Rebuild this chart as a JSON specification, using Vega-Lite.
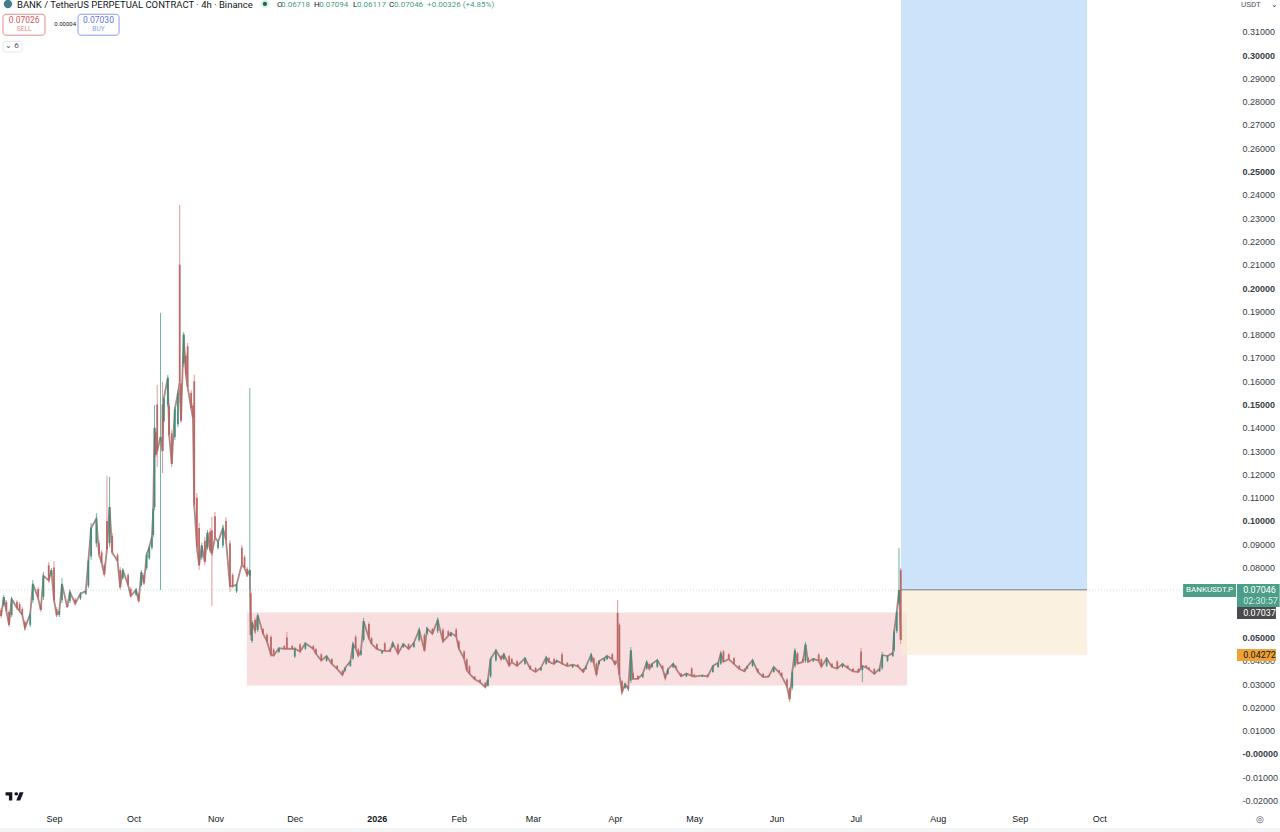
{"$schema":"https://vega.github.io/schema/vega-lite/v6.json","width":1280,"height":832,"padding":0,"autosize":{"type":"none"},"background":"#ffffff","view":{"stroke":null},"config":{"font":"Liberation Sans"},
"datasets":{
"zones":[{"k":"red","t":"2025-11-12T22:00Z","t2":"2026-07-20T10:00Z","p":0.0607,"p2":0.0294},{"k":"blue","t":"2026-07-18T02:00Z","t2":"2026-09-26T10:00Z","p":0.0704,"p2":0.3236},{"k":"cream","t":"2026-07-18T02:00Z","t2":"2026-09-26T10:00Z","p":0.0704,"p2":0.0425},{"k":"strip","t":"2025-08-11T14:00Z","t2":"2026-12-08T08:00Z","p":-0.0318,"p2":-0.0335}],
"last":[{"t":"2025-08-11T14:00Z","t2":"2026-11-01T17:00Z","p":0.07046}],
"entry":[{"t":"2026-07-18T02:00Z","t2":"2026-09-26T10:00Z","p":0.07046}],
"candles":[
{"t":"2025-08-12","o":0.0618,"h":0.0627,"l":0.0584,"c":0.0592},{"t":"2025-08-13","o":0.0639,"h":0.0682,"l":0.0631,"c":0.0673},{"t":"2025-08-14","o":0.0652,"h":0.0661,"l":0.0605,"c":0.0614},{"t":"2025-08-15","o":0.0609,"h":0.0618,"l":0.0545,"c":0.0554},{"t":"2025-08-16","o":0.0597,"h":0.0674,"l":0.0588,"c":0.0665},{"t":"2025-08-18","o":0.0652,"h":0.0661,"l":0.0618,"c":0.0627},{"t":"2025-08-19","o":0.0643,"h":0.0652,"l":0.0605,"c":0.0614},{"t":"2025-08-20","o":0.0622,"h":0.0631,"l":0.0588,"c":0.0597},{"t":"2025-08-21","o":0.0566,"h":0.0575,"l":0.0532,"c":0.0541},{"t":"2025-08-23","o":0.0554,"h":0.0609,"l":0.0545,"c":0.06},{"t":"2025-08-24","o":0.066,"h":0.0747,"l":0.0648,"c":0.073},{"t":"2025-08-26","o":0.0708,"h":0.0717,"l":0.0661,"c":0.067},{"t":"2025-08-27","o":0.0639,"h":0.0648,"l":0.0609,"c":0.0618},{"t":"2025-08-28","o":0.0675,"h":0.0781,"l":0.0661,"c":0.0765},{"t":"2025-08-30","o":0.081,"h":0.0824,"l":0.0734,"c":0.0745},{"t":"2025-08-31","o":0.0769,"h":0.0798,"l":0.076,"c":0.0789},
{"t":"2025-09-01","o":0.08,"h":0.0828,"l":0.0652,"c":0.066},{"t":"2025-09-02","o":0.0622,"h":0.0631,"l":0.0588,"c":0.0597},{"t":"2025-09-03","o":0.0597,"h":0.0622,"l":0.0588,"c":0.0613},{"t":"2025-09-04","o":0.066,"h":0.0755,"l":0.0648,"c":0.073},{"t":"2025-09-06","o":0.0643,"h":0.0648,"l":0.0627,"c":0.0631},{"t":"2025-09-07","o":0.0657,"h":0.0704,"l":0.0648,"c":0.0695},{"t":"2025-09-09","o":0.0663,"h":0.067,"l":0.0639,"c":0.0645},{"t":"2025-09-11","o":0.0668,"h":0.0695,"l":0.0661,"c":0.0688},{"t":"2025-09-13","o":0.0687,"h":0.0704,"l":0.0682,"c":0.0699},{"t":"2025-09-14","o":0.0722,"h":0.0845,"l":0.0712,"c":0.083},{"t":"2025-09-15","o":0.0848,"h":0.0991,"l":0.0833,"c":0.097},{"t":"2025-09-17","o":0.0905,"h":0.1034,"l":0.0888,"c":0.101},{"t":"2025-09-18","o":0.0905,"h":0.0918,"l":0.0845,"c":0.0858},{"t":"2025-09-19","o":0.0865,"h":0.0876,"l":0.0811,"c":0.082},{"t":"2025-09-20","o":0.081,"h":0.082,"l":0.076,"c":0.077},{"t":"2025-09-21","o":0.1,"h":0.1193,"l":0.0863,"c":0.088},{"t":"2025-09-22","o":0.0905,"h":0.1189,"l":0.0888,"c":0.106},{"t":"2025-09-23","o":0.0935,"h":0.0948,"l":0.0854,"c":0.0865},{"t":"2025-09-25","o":0.0855,"h":0.0863,"l":0.082,"c":0.0828},{"t":"2025-09-26","o":0.079,"h":0.0803,"l":0.0704,"c":0.0715},{"t":"2025-09-27","o":0.0755,"h":0.0798,"l":0.0747,"c":0.079},{"t":"2025-09-29","o":0.0768,"h":0.0777,"l":0.0717,"c":0.0725},{"t":"2025-09-30","o":0.0708,"h":0.0717,"l":0.067,"c":0.0678},
{"t":"2025-10-02","o":0.0685,"h":0.0712,"l":0.0678,"c":0.0705},{"t":"2025-10-03","o":0.0687,"h":0.0695,"l":0.0648,"c":0.0656},{"t":"2025-10-04","o":0.0725,"h":0.079,"l":0.0717,"c":0.078},{"t":"2025-10-05","o":0.0768,"h":0.0777,"l":0.0725,"c":0.0733},{"t":"2025-10-06","o":0.0798,"h":0.0863,"l":0.079,"c":0.0855},{"t":"2025-10-07","o":0.084,"h":0.0897,"l":0.0833,"c":0.0888},{"t":"2025-10-08","o":0.0885,"h":0.094,"l":0.0876,"c":0.093},{"t":"2025-10-08T12:00Z","o":0.094,"h":0.106,"l":0.0931,"c":0.105},{"t":"2025-10-09","o":0.106,"h":0.1498,"l":0.1047,"c":0.14},{"t":"2025-10-09T12:00Z","o":0.138,"h":0.1391,"l":0.1275,"c":0.1285},{"t":"2025-10-10","o":0.15,"h":0.1584,"l":0.1232,"c":0.13},{"t":"2025-10-11T06:00Z","o":0.1345,"h":0.1893,"l":0.0704,"c":0.136},{"t":"2025-10-12","o":0.15,"h":0.1597,"l":0.1206,"c":0.13},{"t":"2025-10-12T12:00Z","o":0.143,"h":0.1533,"l":0.1421,"c":0.1525},{"t":"2025-10-14","o":0.15,"h":0.1627,"l":0.1489,"c":0.1615},{"t":"2025-10-14T12:00Z","o":0.1495,"h":0.1506,"l":0.1361,"c":0.137},{"t":"2025-10-15T12:00Z","o":0.1375,"h":0.1391,"l":0.1232,"c":0.1245},{"t":"2025-10-16T16:00Z","o":0.136,"h":0.1489,"l":0.1348,"c":0.148},{"t":"2025-10-17T20:00Z","o":0.1415,"h":0.1562,"l":0.1403,"c":0.155},{"t":"2025-10-18T12:00Z","o":0.21,"h":0.2356,"l":0.1506,"c":0.16},{"t":"2025-10-19","o":0.159,"h":0.1605,"l":0.1421,"c":0.143},{"t":"2025-10-20","o":0.1675,"h":0.1811,"l":0.1661,"c":0.18},{"t":"2025-10-20T20:00Z","o":0.171,"h":0.1721,"l":0.1618,"c":0.1628},{"t":"2025-10-21T12:00Z","o":0.175,"h":0.1764,"l":0.1562,"c":0.1575},{"t":"2025-10-22T20:00Z","o":0.155,"h":0.1562,"l":0.1476,"c":0.1485},{"t":"2025-10-23T12:00Z","o":0.1495,"h":0.1506,"l":0.1433,"c":0.1442},{"t":"2025-10-24","o":0.16,"h":0.1627,"l":0.1047,"c":0.107},{"t":"2025-10-25","o":0.11,"h":0.112,"l":0.0863,"c":0.089},{"t":"2025-10-25T20:00Z","o":0.097,"h":0.0991,"l":0.079,"c":0.081},{"t":"2025-10-26T20:00Z","o":0.0843,"h":0.0906,"l":0.0833,"c":0.0895},{"t":"2025-10-28","o":0.0915,"h":0.0931,"l":0.0811,"c":0.0825},{"t":"2025-10-29","o":0.0885,"h":0.0961,"l":0.0876,"c":0.095},{"t":"2025-10-30","o":0.0955,"h":0.097,"l":0.0863,"c":0.0875},{"t":"2025-10-30T16:00Z","o":0.096,"h":0.1017,"l":0.0635,"c":0.086},{"t":"2025-10-31T20:00Z","o":0.102,"h":0.1039,"l":0.0918,"c":0.093},
{"t":"2025-11-02","o":0.0885,"h":0.0918,"l":0.0876,"c":0.091},{"t":"2025-11-03T20:00Z","o":0.0895,"h":0.0983,"l":0.0884,"c":0.097},{"t":"2025-11-05","o":0.1,"h":0.1017,"l":0.0906,"c":0.0918},{"t":"2025-11-06T12:00Z","o":0.0905,"h":0.0918,"l":0.0695,"c":0.072},{"t":"2025-11-07T12:00Z","o":0.0768,"h":0.0777,"l":0.0712,"c":0.072},{"t":"2025-11-09","o":0.0698,"h":0.0734,"l":0.0691,"c":0.0727},{"t":"2025-11-11","o":0.0885,"h":0.0897,"l":0.0803,"c":0.0815},{"t":"2025-11-12","o":0.0845,"h":0.0854,"l":0.079,"c":0.0798},{"t":"2025-11-13","o":0.0795,"h":0.0803,"l":0.076,"c":0.0768},{"t":"2025-11-14","o":0.0765,"h":0.1571,"l":0.0704,"c":0.079},{"t":"2025-11-14T08:00Z","o":0.069,"h":0.0704,"l":0.0489,"c":0.051},{"t":"2025-11-14T20:00Z","o":0.0485,"h":0.0575,"l":0.0476,"c":0.0565},{"t":"2025-11-16","o":0.0575,"h":0.0584,"l":0.0519,"c":0.0528},{"t":"2025-11-17","o":0.0532,"h":0.0605,"l":0.0524,"c":0.0595},{"t":"2025-11-19","o":0.0535,"h":0.0541,"l":0.0511,"c":0.0516},{"t":"2025-11-20T12:00Z","o":0.0512,"h":0.0519,"l":0.0476,"c":0.0483},{"t":"2025-11-22","o":0.0502,"h":0.0511,"l":0.0416,"c":0.0425},{"t":"2025-11-23","o":0.0448,"h":0.0455,"l":0.0416,"c":0.0423},{"t":"2025-11-25","o":0.0438,"h":0.0459,"l":0.0433,"c":0.0454},{"t":"2025-11-27","o":0.0463,"h":0.0468,"l":0.0446,"c":0.0451},{"t":"2025-11-28","o":0.05,"h":0.0524,"l":0.0446,"c":0.0452},{"t":"2025-11-30","o":0.0463,"h":0.0468,"l":0.0446,"c":0.0451},
{"t":"2025-12-01","o":0.0418,"h":0.0459,"l":0.0412,"c":0.0452},{"t":"2025-12-03","o":0.047,"h":0.0476,"l":0.0433,"c":0.044},{"t":"2025-12-05","o":0.0452,"h":0.0481,"l":0.0446,"c":0.0475},{"t":"2025-12-08","o":0.0463,"h":0.0468,"l":0.0446,"c":0.0451},{"t":"2025-12-09","o":0.045,"h":0.0455,"l":0.0425,"c":0.043},{"t":"2025-12-11","o":0.0427,"h":0.0433,"l":0.0395,"c":0.0401},{"t":"2025-12-13","o":0.04,"h":0.0425,"l":0.0395,"c":0.042},{"t":"2025-12-15","o":0.0407,"h":0.0412,"l":0.0382,"c":0.0387},{"t":"2025-12-17","o":0.0378,"h":0.0382,"l":0.0361,"c":0.0365},{"t":"2025-12-19","o":0.0356,"h":0.0361,"l":0.0335,"c":0.0339},{"t":"2025-12-20","o":0.0357,"h":0.0373,"l":0.0352,"c":0.0369},{"t":"2025-12-22","o":0.0378,"h":0.0403,"l":0.0373,"c":0.0398},{"t":"2025-12-23","o":0.041,"h":0.0481,"l":0.0403,"c":0.0472},{"t":"2025-12-24","o":0.0503,"h":0.0511,"l":0.0446,"c":0.0453},{"t":"2025-12-25","o":0.0449,"h":0.0455,"l":0.0416,"c":0.0422},{"t":"2025-12-26","o":0.0426,"h":0.0446,"l":0.0421,"c":0.0442},{"t":"2025-12-27","o":0.049,"h":0.0584,"l":0.0481,"c":0.057},{"t":"2025-12-29","o":0.0558,"h":0.0567,"l":0.0489,"c":0.0497},{"t":"2025-12-30","o":0.0497,"h":0.0502,"l":0.0468,"c":0.0473},
{"t":"2026-01-01","o":0.0471,"h":0.0476,"l":0.0446,"c":0.0451},{"t":"2026-01-03","o":0.0432,"h":0.0446,"l":0.0429,"c":0.0443},{"t":"2026-01-04","o":0.0475,"h":0.0481,"l":0.0438,"c":0.0443},{"t":"2026-01-06","o":0.0451,"h":0.0455,"l":0.0438,"c":0.0441},{"t":"2026-01-07","o":0.0459,"h":0.0481,"l":0.0455,"c":0.0477},{"t":"2026-01-09","o":0.047,"h":0.0476,"l":0.0425,"c":0.0431},{"t":"2026-01-11","o":0.0459,"h":0.0476,"l":0.0455,"c":0.0472},{"t":"2026-01-13","o":0.0471,"h":0.0476,"l":0.0446,"c":0.0451},{"t":"2026-01-15","o":0.0459,"h":0.0481,"l":0.0455,"c":0.0477},{"t":"2026-01-17","o":0.0488,"h":0.0541,"l":0.0481,"c":0.0533},{"t":"2026-01-19","o":0.0511,"h":0.0519,"l":0.0438,"c":0.0444},{"t":"2026-01-20","o":0.0517,"h":0.0545,"l":0.0511,"c":0.0539},{"t":"2026-01-22","o":0.0536,"h":0.0541,"l":0.0511,"c":0.0516},{"t":"2026-01-24","o":0.0527,"h":0.0584,"l":0.0519,"c":0.0575},{"t":"2026-01-26","o":0.0533,"h":0.0541,"l":0.0476,"c":0.0483},{"t":"2026-01-28","o":0.0527,"h":0.0532,"l":0.0502,"c":0.0507},{"t":"2026-01-29","o":0.0506,"h":0.0524,"l":0.0502,"c":0.052},{"t":"2026-01-31","o":0.0534,"h":0.0541,"l":0.0498,"c":0.0504},
{"t":"2026-02-01","o":0.0483,"h":0.0489,"l":0.0446,"c":0.0452},{"t":"2026-02-03","o":0.044,"h":0.0446,"l":0.0403,"c":0.0409},{"t":"2026-02-04","o":0.0405,"h":0.0412,"l":0.0352,"c":0.036},{"t":"2026-02-05","o":0.0376,"h":0.0382,"l":0.0339,"c":0.0345},{"t":"2026-02-07","o":0.0332,"h":0.0335,"l":0.0318,"c":0.0321},{"t":"2026-02-09","o":0.0319,"h":0.0322,"l":0.0305,"c":0.0308},{"t":"2026-02-11","o":0.0305,"h":0.0309,"l":0.0283,"c":0.0287},{"t":"2026-02-12","o":0.0293,"h":0.0326,"l":0.0288,"c":0.032},{"t":"2026-02-13","o":0.0334,"h":0.0416,"l":0.0326,"c":0.0408},{"t":"2026-02-15","o":0.0402,"h":0.0451,"l":0.0395,"c":0.0444},{"t":"2026-02-17","o":0.0421,"h":0.0425,"l":0.0403,"c":0.0407},{"t":"2026-02-18","o":0.0407,"h":0.0433,"l":0.0403,"c":0.0428},{"t":"2026-02-20","o":0.0419,"h":0.0425,"l":0.0373,"c":0.038},{"t":"2026-02-21","o":0.0408,"h":0.0412,"l":0.0391,"c":0.0394},{"t":"2026-02-23","o":0.0398,"h":0.0403,"l":0.0373,"c":0.0378},{"t":"2026-02-26","o":0.0387,"h":0.0416,"l":0.0382,"c":0.0411},{"t":"2026-02-28","o":0.0378,"h":0.0382,"l":0.0361,"c":0.0365},
{"t":"2026-03-02","o":0.0369,"h":0.0373,"l":0.0348,"c":0.0352},{"t":"2026-03-04","o":0.0359,"h":0.0373,"l":0.0356,"c":0.037},{"t":"2026-03-06","o":0.0387,"h":0.0421,"l":0.0382,"c":0.0415},{"t":"2026-03-07","o":0.0412,"h":0.0416,"l":0.0391,"c":0.0395},{"t":"2026-03-09","o":0.0407,"h":0.0412,"l":0.0382,"c":0.0387},{"t":"2026-03-10","o":0.0393,"h":0.0403,"l":0.0391,"c":0.0401},{"t":"2026-03-12","o":0.0428,"h":0.0438,"l":0.0382,"c":0.0388},{"t":"2026-03-14","o":0.0391,"h":0.0395,"l":0.0373,"c":0.0377},{"t":"2026-03-16","o":0.0372,"h":0.0386,"l":0.0369,"c":0.0383},{"t":"2026-03-18","o":0.0383,"h":0.0386,"l":0.0373,"c":0.0376},{"t":"2026-03-20","o":0.0365,"h":0.0369,"l":0.0348,"c":0.0352},{"t":"2026-03-21","o":0.0364,"h":0.0378,"l":0.0361,"c":0.0375},{"t":"2026-03-23","o":0.0397,"h":0.0433,"l":0.0391,"c":0.0426},{"t":"2026-03-24","o":0.0411,"h":0.0416,"l":0.0386,"c":0.039},{"t":"2026-03-25","o":0.0388,"h":0.0395,"l":0.033,"c":0.034},{"t":"2026-03-26","o":0.0386,"h":0.0403,"l":0.0382,"c":0.0399},{"t":"2026-03-28","o":0.0399,"h":0.0416,"l":0.0395,"c":0.0412},{"t":"2026-03-29","o":0.0407,"h":0.0425,"l":0.0403,"c":0.0421},{"t":"2026-03-31","o":0.0428,"h":0.0433,"l":0.0403,"c":0.0407},
{"t":"2026-04-01","o":0.04,"h":0.0403,"l":0.0382,"c":0.0385},{"t":"2026-04-02","o":0.0605,"h":0.0661,"l":0.0382,"c":0.04},{"t":"2026-04-02T16:00Z","o":0.0555,"h":0.0562,"l":0.033,"c":0.034},{"t":"2026-04-03T16:00Z","o":0.0312,"h":0.0318,"l":0.0258,"c":0.0265},{"t":"2026-04-04T20:00Z","o":0.0284,"h":0.0305,"l":0.0279,"c":0.03},{"t":"2026-04-06","o":0.0292,"h":0.0296,"l":0.0275,"c":0.0279},{"t":"2026-04-07","o":0.0315,"h":0.0459,"l":0.0305,"c":0.0445},{"t":"2026-04-07T20:00Z","o":0.0346,"h":0.0352,"l":0.0318,"c":0.0322},{"t":"2026-04-09T16:00Z","o":0.0335,"h":0.0339,"l":0.0318,"c":0.0322},{"t":"2026-04-11T12:00Z","o":0.033,"h":0.0348,"l":0.0326,"c":0.0344},{"t":"2026-04-13","o":0.0366,"h":0.0399,"l":0.0361,"c":0.0394},{"t":"2026-04-14","o":0.0386,"h":0.0391,"l":0.0361,"c":0.0365},{"t":"2026-04-15","o":0.0372,"h":0.0391,"l":0.0369,"c":0.0387},{"t":"2026-04-17","o":0.0374,"h":0.0408,"l":0.0369,"c":0.0403},{"t":"2026-04-19","o":0.0378,"h":0.0382,"l":0.0361,"c":0.0365},{"t":"2026-04-20","o":0.0344,"h":0.0348,"l":0.0322,"c":0.0326},{"t":"2026-04-21","o":0.0344,"h":0.0369,"l":0.0339,"c":0.0364},{"t":"2026-04-23","o":0.0372,"h":0.0391,"l":0.0369,"c":0.0387},{"t":"2026-04-24","o":0.0379,"h":0.0382,"l":0.0365,"c":0.0368},{"t":"2026-04-26","o":0.0345,"h":0.0348,"l":0.033,"c":0.0333},{"t":"2026-04-28","o":0.0333,"h":0.0348,"l":0.033,"c":0.0345},{"t":"2026-04-30","o":0.0367,"h":0.0373,"l":0.033,"c":0.0335},
{"t":"2026-05-01","o":0.0341,"h":0.0343,"l":0.033,"c":0.0332},{"t":"2026-05-04","o":0.0332,"h":0.0339,"l":0.033,"c":0.0337},{"t":"2026-05-06","o":0.0341,"h":0.0343,"l":0.033,"c":0.0332},{"t":"2026-05-08","o":0.0352,"h":0.0382,"l":0.0348,"c":0.0378},{"t":"2026-05-10","o":0.0373,"h":0.0395,"l":0.0369,"c":0.0391},{"t":"2026-05-11","o":0.0388,"h":0.0438,"l":0.0382,"c":0.0432},{"t":"2026-05-12","o":0.044,"h":0.0446,"l":0.0391,"c":0.0396},{"t":"2026-05-14","o":0.0428,"h":0.0433,"l":0.0403,"c":0.0407},{"t":"2026-05-16","o":0.0411,"h":0.0416,"l":0.0382,"c":0.0386},{"t":"2026-05-18","o":0.0378,"h":0.0382,"l":0.0361,"c":0.0365},{"t":"2026-05-20","o":0.0366,"h":0.0369,"l":0.0352,"c":0.0355},{"t":"2026-05-21","o":0.0367,"h":0.0378,"l":0.0365,"c":0.0376},{"t":"2026-05-23","o":0.0378,"h":0.0408,"l":0.0373,"c":0.0403},{"t":"2026-05-25","o":0.0365,"h":0.0369,"l":0.0348,"c":0.0352},{"t":"2026-05-27","o":0.0344,"h":0.0348,"l":0.0326,"c":0.033},{"t":"2026-05-29","o":0.0337,"h":0.0339,"l":0.033,"c":0.0332},{"t":"2026-05-31","o":0.0352,"h":0.0378,"l":0.0348,"c":0.0373},
{"t":"2026-06-02","o":0.0359,"h":0.0361,"l":0.0348,"c":0.035},{"t":"2026-06-03","o":0.0348,"h":0.0352,"l":0.033,"c":0.0334},{"t":"2026-06-05","o":0.032,"h":0.0326,"l":0.0283,"c":0.029},{"t":"2026-06-06","o":0.0282,"h":0.0288,"l":0.0223,"c":0.0235},{"t":"2026-06-07","o":0.0285,"h":0.0361,"l":0.0275,"c":0.035},{"t":"2026-06-08","o":0.0378,"h":0.0455,"l":0.0369,"c":0.0445},{"t":"2026-06-09","o":0.0432,"h":0.0438,"l":0.0382,"c":0.0388},{"t":"2026-06-11","o":0.0408,"h":0.0412,"l":0.0391,"c":0.0395},{"t":"2026-06-12","o":0.0398,"h":0.0481,"l":0.0391,"c":0.047},{"t":"2026-06-13","o":0.0412,"h":0.0416,"l":0.0391,"c":0.0395},{"t":"2026-06-15","o":0.0398,"h":0.0412,"l":0.0395,"c":0.0409},{"t":"2026-06-17","o":0.0426,"h":0.0433,"l":0.0395,"c":0.04},{"t":"2026-06-18","o":0.0406,"h":0.0412,"l":0.0369,"c":0.0375},{"t":"2026-06-20","o":0.0379,"h":0.0416,"l":0.0373,"c":0.041},{"t":"2026-06-22","o":0.0387,"h":0.0391,"l":0.0369,"c":0.0373},{"t":"2026-06-24","o":0.0397,"h":0.0403,"l":0.0361,"c":0.0367},{"t":"2026-06-26","o":0.0373,"h":0.0391,"l":0.0369,"c":0.0387},{"t":"2026-06-28","o":0.0379,"h":0.0382,"l":0.0365,"c":0.0368},{"t":"2026-06-30","o":0.0366,"h":0.0369,"l":0.0352,"c":0.0355},
{"t":"2026-07-02","o":0.0365,"h":0.0369,"l":0.0348,"c":0.0352},{"t":"2026-07-03","o":0.044,"h":0.0455,"l":0.0361,"c":0.037},{"t":"2026-07-03T12:00Z","o":0.036,"h":0.0382,"l":0.0309,"c":0.0378},{"t":"2026-07-05","o":0.038,"h":0.0382,"l":0.0369,"c":0.0371},{"t":"2026-07-06","o":0.0371,"h":0.0373,"l":0.0361,"c":0.0363},{"t":"2026-07-08","o":0.0365,"h":0.0369,"l":0.0339,"c":0.0344},{"t":"2026-07-10","o":0.0355,"h":0.0369,"l":0.0352,"c":0.0366},{"t":"2026-07-11","o":0.0368,"h":0.0438,"l":0.0361,"c":0.0425},{"t":"2026-07-13","o":0.04,"h":0.0425,"l":0.0395,"c":0.042},{"t":"2026-07-15","o":0.042,"h":0.0438,"l":0.0416,"c":0.0434},{"t":"2026-07-15T12:00Z","o":0.0445,"h":0.0532,"l":0.0438,"c":0.0525},{"t":"2026-07-16T12:00Z","o":0.0527,"h":0.0618,"l":0.0519,"c":0.061},{"t":"2026-07-17T08:00Z","o":0.0648,"h":0.0884,"l":0.0639,"c":0.0704},{"t":"2026-07-18","o":0.079,"h":0.0798,"l":0.0472,"c":0.049}],
"boxes":[{"k":"sell","t":"2025-08-12T17:00Z","t2":"2025-08-28T14:00Z","p":0.3175,"p2":0.3085},{"k":"buy","t":"2025-09-10T02:00Z","t2":"2025-09-25T14:00Z","p":0.3175,"p2":0.3085},{"k":"misc","t":"2025-08-12T17:00Z","t2":"2025-08-19T22:00Z","p":0.3059,"p2":0.3013}],
"tags":[{"k":"green","t":"2026-11-01T17:00Z","t2":"2026-11-21T17:00Z","p":0.073,"p2":0.0674},{"k":"green","t":"2026-11-22T02:00Z","t2":"2026-12-08T05:00Z","p":0.073,"p2":0.0631},{"k":"dark","t":"2026-11-22T02:00Z","t2":"2026-12-06T19:00Z","p":0.0631,"p2":0.0579},{"k":"orange","t":"2026-11-22T02:00Z","t2":"2026-12-06T19:00Z","p":0.0451,"p2":0.0399}],
"dots":[{"k":"logo","t":"2025-08-14T14:00Z","p":0.3219},{"k":"halo","t":"2025-11-19T17:00Z","p":0.3219},{"k":"dot","t":"2025-11-19T17:00Z","p":0.3219}],
"mark":[{"t":"2025-08-17T02:00Z","p":-0.0182}],
"textL":[{"t":"2025-08-18","p":0.3215,"s":"BANK / TetherUS PERPETUAL CONTRACT · 4h · Binance","r":"head"},{"t":"2025-11-24T07:00Z","p":0.3215,"s":"O","r":"ol"},{"t":"2025-11-25T19:00Z","p":0.3215,"s":"0.06718","r":"ov"},{"t":"2025-12-08T07:00Z","p":0.3215,"s":"H","r":"ol"},{"t":"2025-12-10T05:00Z","p":0.3215,"s":"0.07094","r":"ov"},{"t":"2025-12-23","p":0.3215,"s":"L","r":"ol"},{"t":"2025-12-24T12:00Z","p":0.3215,"s":"0.06117","r":"ov"},{"t":"2026-01-05T14:00Z","p":0.3215,"s":"C","r":"ol"},{"t":"2026-01-07T12:00Z","p":0.3215,"s":"0.07046","r":"ov"},{"t":"2026-01-20","p":0.3215,"s":"+0.00326 (+4.85%)","r":"ov"},{"t":"2025-09-01T02:00Z","p":0.3133,"s":"0.00004","r":"spread"},{"t":"2026-11-24T10:00Z","p":0.0704,"s":"0.07046","r":"tagw"},{"t":"2026-11-24T10:00Z","p":0.0657,"s":"02:30:57","r":"tagt"},{"t":"2026-11-24T10:00Z","p":0.0605,"s":"0.07037","r":"tagw"},{"t":"2026-11-24T10:00Z","p":0.0425,"s":"0.04272","r":"tagk"},{"t":"2026-11-23T14:00Z","p":0.3215,"s":"USDT","r":"unit"}],
"textC":[{"t":"2025-08-20T17:00Z","p":0.315,"s":"0.07026","r":"sellp"},{"t":"2025-08-20T17:00Z","p":0.3112,"s":"SELL","r":"sell"},{"t":"2025-09-17T19:00Z","p":0.315,"s":"0.07030","r":"buyp"},{"t":"2025-09-17T19:00Z","p":0.3112,"s":"BUY","r":"buy"},{"t":"2025-08-16T02:00Z","p":0.3039,"s":"⌄ 6","r":"unit"},{"t":"2026-11-11T17:00Z","p":0.0704,"s":"BANKUSDT.P","r":"name"},{"t":"2026-12-06T10:00Z","p":0.3215,"s":"⌄","r":"unit"},{"t":"2026-11-30T19:00Z","p":-0.0279,"s":"◎","r":"icon"}]
},
"encoding":{
"x":{"field":"t","type":"temporal","title":null,"scale":{"type":"utc","domain":["2025-08-11T14:00:00Z","2026-12-08T08:00:00Z"],"nice":false},"axis":{"orient":"bottom","offset":-18,"grid":false,"domain":false,"ticks":false,"title":null,"labelPadding":0,"labelFont":"Liberation Sans","labelFontSize":9,"labelColor":"#131722","labelOverlap":false,"labelFlush":false,"labelBound":false,"values":["2025-09-01T00:00:00Z","2025-10-01T00:00:00Z","2025-11-01T00:00:00Z","2025-12-01T00:00:00Z","2026-01-01T00:00:00Z","2026-02-01T00:00:00Z","2026-03-01T00:00:00Z","2026-04-01T00:00:00Z","2026-05-01T00:00:00Z","2026-06-01T00:00:00Z","2026-07-01T00:00:00Z","2026-08-01T00:00:00Z","2026-09-01T00:00:00Z","2026-10-01T00:00:00Z"],"labelExpr":"utcFormat(datum.value,'%b')=='Jan'?'2026':utcFormat(datum.value,'%b')","labelFontWeight":{"condition":{"test":"utcFormat(datum.value,'%b')=='Jan'","value":"bold"},"value":"normal"}}},
"y":{"field":"p","type":"quantitative","title":null,"scale":{"domain":[-0.03348,0.32361],"nice":false,"zero":false},"axis":{"orient":"right","offset":-38,"grid":false,"domain":false,"ticks":false,"title":null,"labelPadding":0,"labelAlign":"left","labelFont":"Liberation Sans","labelFontSize":9,"labelColor":"#3a3d47","labelOverlap":false,"labelFlush":false,"labelBound":false,"values":[-0.02,-0.01,0,0.01,0.02,0.03,0.04,0.05,0.06,0.07,0.08,0.09,0.1,0.11,0.12,0.13,0.14,0.15,0.16,0.17,0.18,0.19,0.2,0.21,0.22,0.23,0.24,0.25,0.26,0.27,0.28,0.29,0.3,0.31],"labelExpr":"datum.value==0?'-0.00000':(datum.value<0?'-':'')+format(abs(datum.value),'.5f')","labelFontWeight":{"condition":{"test":"round(datum.value*100)%5==0","value":"bold"},"value":"normal"}}}
},
"layer":[
{"data":{"name":"zones"},"mark":{"type":"rect"},"encoding":{"x2":{"field":"t2"},"y2":{"field":"p2"},"fill":{"field":"k","type":"nominal","legend":null,"scale":{"domain":["red","blue","cream","strip"],"range":["#f8dede","#cde3fa","rgba(248,236,212,0.72)","#f3f4f6"]}}}},
{"data":{"name":"last"},"mark":{"type":"rule","stroke":"#b9e0d5","strokeWidth":1,"strokeDash":[1,2]},"encoding":{"x2":{"field":"t2"}}},
{"data":{"name":"candles"},"mark":{"type":"line","stroke":"#9c7470","strokeWidth":1.8,"opacity":0.85},"encoding":{"y":{"field":"c","type":"quantitative","title":null,"scale":{"domain":[-0.03348,0.32361],"nice":false,"zero":false}}}},
{"data":{"name":"candles"},"mark":{"type":"rule","strokeWidth":1,"opacity":0.8},"encoding":{"y":{"field":"h","type":"quantitative","title":null,"scale":{"domain":[-0.03348,0.32361],"nice":false,"zero":false}},"y2":{"field":"l"},"stroke":{"condition":{"test":"datum.c>=datum.o","value":"#4f9f8c"},"value":"#dc7f7f"}}},
{"data":{"name":"candles"},"mark":{"type":"rule","strokeWidth":1.8,"opacity":0.9},"encoding":{"y":{"field":"o","type":"quantitative","title":null,"scale":{"domain":[-0.03348,0.32361],"nice":false,"zero":false}},"y2":{"field":"c"},"stroke":{"condition":{"test":"datum.c>=datum.o","value":"#3f8a78"},"value":"#b8615f"}}},
{"data":{"name":"entry"},"mark":{"type":"rule","stroke":"#7d7f85","strokeWidth":1},"encoding":{"x2":{"field":"t2"}}},
{"data":{"name":"boxes"},"mark":{"type":"rect","fill":"#ffffff","strokeWidth":1,"cornerRadius":3},"encoding":{"x2":{"field":"t2"},"y2":{"field":"p2"},"stroke":{"field":"k","type":"nominal","legend":null,"scale":{"domain":["sell","buy","misc"],"range":["#e28a8a","#8f9be8","#e6e8ee"]}}}},
{"data":{"name":"tags"},"mark":{"type":"rect"},"encoding":{"x2":{"field":"t2"},"y2":{"field":"p2"},"fill":{"field":"k","type":"nominal","legend":null,"scale":{"domain":["green","dark","orange"],"range":["#4b9e88","#4a4a4c","#eea232"]}}}},
{"data":{"name":"dots"},"mark":{"type":"point","filled":true,"opacity":1},"encoding":{"color":{"field":"k","type":"nominal","legend":null,"scale":{"domain":["logo","halo","dot"],"range":["#3f7f8c","#d8efe8","#1f6b58"]}},"size":{"field":"k","type":"nominal","legend":null,"scale":{"type":"ordinal","domain":["logo","halo","dot"],"range":[70,60,18]}}}},
{"data":{"name":"mark"},"mark":{"type":"point","filled":true,"opacity":1,"color":"#131722","size":1300,"shape":"M-.125 -.234 H-.5 V-.047 H-.3125 V.234 H-.125 Z M.3125 .234 H.094 L.281 -.234 H.5 Z M.094 -.234 A.094 .094 0 1 0 .094 -.047 A.094 .094 0 1 0 .094 -.234 Z"}},
{"data":{"name":"textL"},"mark":{"type":"text","align":"left","baseline":"middle","font":"Roboto"},"encoding":{"text":{"field":"s"},"color":{"field":"r","type":"nominal","legend":null,"scale":{"domain":["head","ol","ov","spread","tagw","tagt","tagk","unit"],"range":["#131722","#131722","#4a9c86","#131722","#ffffff","#d5ece5","#131722","#50535e"]}},"size":{"field":"r","type":"nominal","legend":null,"scale":{"type":"ordinal","domain":["head","ol","ov","spread","tagw","tagt","tagk","unit"],"range":[9.5,8,8,6,9,9,9,8]}}}},
{"data":{"name":"textC"},"mark":{"type":"text","align":"center","baseline":"middle","font":"Roboto"},"encoding":{"text":{"field":"s"},"color":{"field":"r","type":"nominal","legend":null,"scale":{"domain":["sellp","sell","buyp","buy","unit","name","icon"],"range":["#d9565a","#e28a8a","#6573db","#8f9be8","#50535e","#ffffff","#50535e"]}},"size":{"field":"r","type":"nominal","legend":null,"scale":{"type":"ordinal","domain":["sellp","sell","buyp","buy","unit","name","icon"],"range":[8.5,6.5,8.5,6.5,8,8,9]}}}}
],
"resolve":{"scale":{"color":"independent","size":"independent","fill":"independent","stroke":"independent"}}
}
